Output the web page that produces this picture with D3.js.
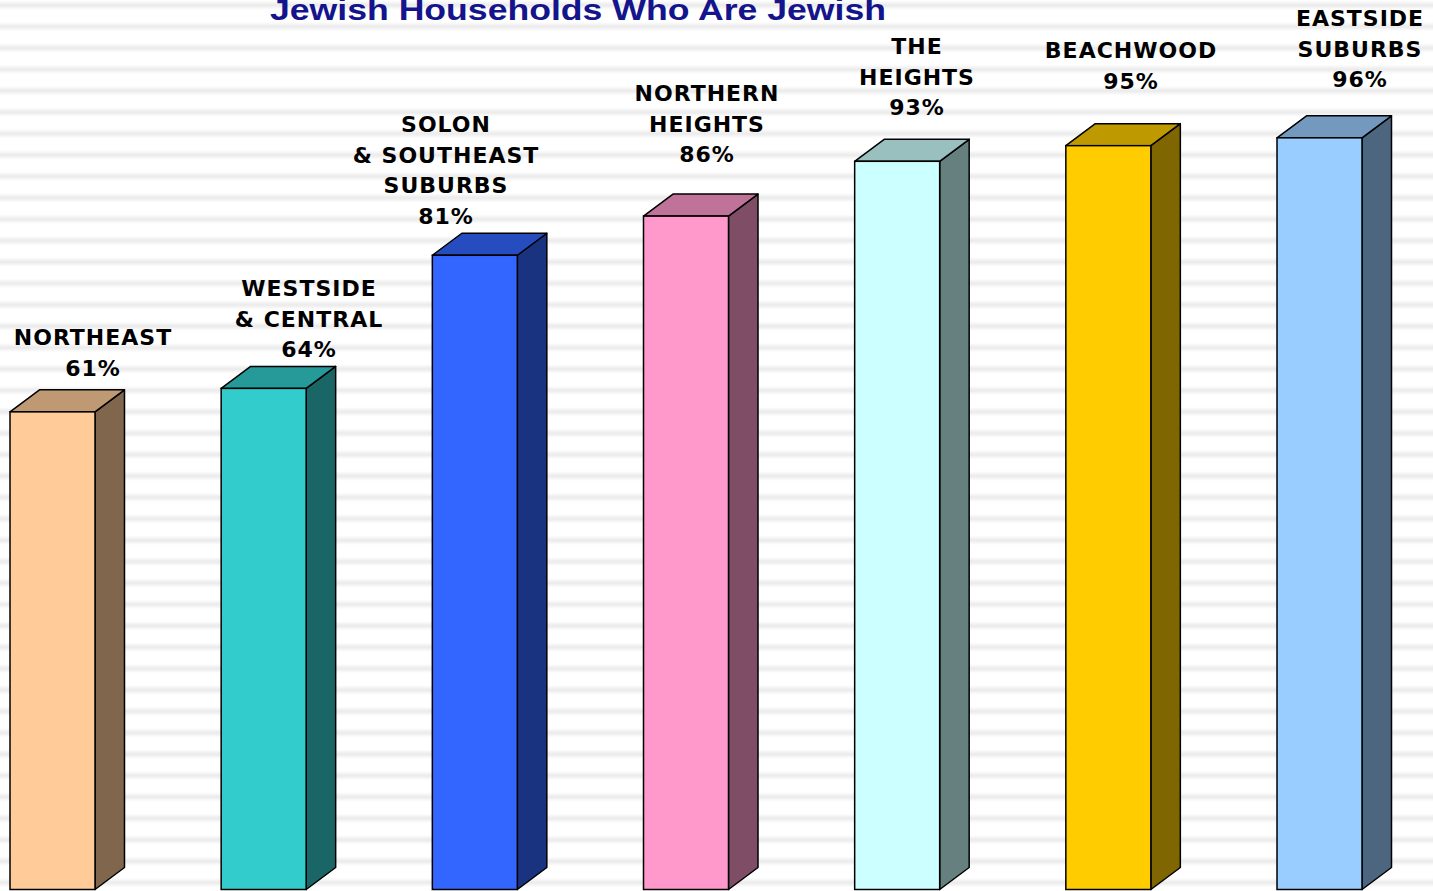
<!DOCTYPE html>
<html><head><meta charset="utf-8">
<script src="https://cdn.jsdelivr.net/npm/d3@7"></script>
<style>html,body{margin:0;padding:0;background:#fff;overflow:hidden}</style>
</head><body>
<svg id="chart" width="1433" height="891"></svg>
<script>
// ---- data ----
const categories = ["NORTHEAST", "WESTSIDE & CENTRAL", "SOLON & SOUTHEAST SUBURBS", "NORTHERN HEIGHTS", "THE HEIGHTS", "BEACHWOOD", "EASTSIDE SUBURBS"];
const labelLines = [["NORTHEAST"], ["WESTSIDE", "& CENTRAL"], ["SOLON", "& SOUTHEAST", "SUBURBS"], ["NORTHERN", "HEIGHTS"], ["THE", "HEIGHTS"], ["BEACHWOOD"], ["EASTSIDE", "SUBURBS"]];
const values = [61, 64, 81, 86, 93, 95, 96];
const title = "Jewish Households Who Are Jewish";

// ---- layout / style ----
const frontColors = ["#FFCC99", "#33CCCC", "#3366FF", "#FF99CC", "#CCFFFF", "#FFCC00", "#99CCFF"];
const labelCenterX = [93, 309, 446, 707, 917, 1131, 1360];
const labelFirstBaseline = [345, 296, 132, 101, 54, 58, 26];
const W = 1433, H = 891;
const depthX = 29.5, depthY = 22;

const svg = d3.select("#chart");
const defs = svg.append("defs");
const grad = defs.append("linearGradient").attr("id", "stripeGrad")
  .attr("x1", 0).attr("y1", 0).attr("x2", 0).attr("y2", 1);
[[0, "#ffffff"], [0.28, "#ffffff"], [0.5, "#eaeaea"], [0.72, "#ffffff"], [1, "#ffffff"]]
  .forEach(([o, c]) => grad.append("stop").attr("offset", o).attr("stop-color", c));
const period = 21.4;
const pat = defs.append("pattern").attr("id", "stripes").attr("patternUnits", "userSpaceOnUse")
  .attr("x", 0).attr("y", 48 - period / 2).attr("width", W).attr("height", period);
pat.append("rect").attr("width", W).attr("height", period).attr("fill", "url(#stripeGrad)");
svg.append("rect").attr("width", W).attr("height", H).attr("fill", "url(#stripes)");

const x = d3.scaleBand().domain(categories).range([10, 1362]).paddingInner(0.5975).paddingOuter(0);
const y = d3.scaleLinear().domain([0, 100]).range([889.5, 106.5]);

const scaleCol = (c, k) => { const r = d3.rgb(c); return d3.rgb(r.r * k, r.g * k, r.b * k).formatHex(); };

const g = svg.append("g");
categories.forEach((cat, i) => {
  const x0 = x(cat), x1 = x0 + x.bandwidth();
  const yt = y(values[i]), yb = y(0);
  const bar = g.append("g");
  bar.append("path")
    .attr("d", `M${x1},${yt}L${x1 + depthX},${yt - depthY}L${x1 + depthX},${yb - depthY}L${x1},${yb}Z`)
    .attr("fill", scaleCol(frontColors[i], 0.5)).attr("stroke", "#000").attr("stroke-width", 1.5).attr("stroke-linejoin", "round");
  bar.append("path")
    .attr("d", `M${x0},${yt}L${x0 + depthX},${yt - depthY}L${x1 + depthX},${yt - depthY}L${x1},${yt}Z`)
    .attr("fill", scaleCol(frontColors[i], 0.75)).attr("stroke", "#000").attr("stroke-width", 1.5).attr("stroke-linejoin", "round");
  bar.append("rect").attr("x", x0).attr("y", yt).attr("width", x.bandwidth()).attr("height", yb - yt)
    .attr("fill", frontColors[i]).attr("stroke", "#000").attr("stroke-width", 1.5);

  const lines = labelLines[i].concat([values[i] + "%"]);
  const t = svg.append("text")
    .attr("text-anchor", "middle")
    .attr("font-family", "DejaVu Sans, Verdana, sans-serif")
    .attr("font-weight", "bold").attr("font-size", 22)
    .attr("letter-spacing", 1.0)
    .attr("fill", "#000");
  lines.forEach((ln, j) => {
    t.append("tspan").attr("x", labelCenterX[i]).attr("y", labelFirstBaseline[i] + j * 30.5).text(ln);
  });
});

svg.append("text").attr("x", 578).attr("y", 20)
  .attr("text-anchor", "middle")
  .attr("font-family", "Liberation Sans, Arial, sans-serif")
  .attr("font-weight", "bold").attr("font-size", 30)
  .attr("textLength", 616).attr("lengthAdjust", "spacingAndGlyphs")
  .attr("fill", "#14148C")
  .text(title);
</script>
</body></html>
